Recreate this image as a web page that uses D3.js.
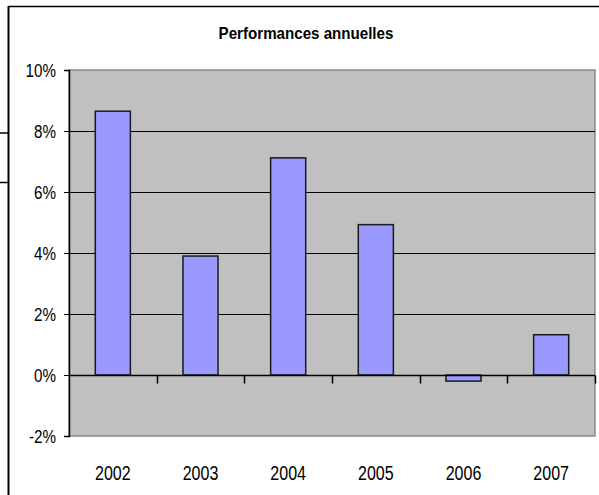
<!DOCTYPE html>
<html>
<head>
<meta charset="utf-8">
<script src="https://cdn.jsdelivr.net/npm/d3@7"></script>
<style>
  body { margin: 0; background: #fff; }
  svg { display: block; font-family: Arial, "Liberation Sans", sans-serif; }
</style>
</head>
<body>
<div id="chart"></div>
<script>
// data
const years = ["2002", "2003", "2004", "2005", "2006", "2007"];
const perf = [8.65, 3.9, 7.12, 4.93, -0.2, 1.32];
const yTicks = [-2, 0, 2, 4, 6, 8, 10];
const title = "Performances annuelles";

const W = 599, H = 495;
const plot = { left: 69, top: 70, right: 595, bottom: 436 };

const svg = d3.select("#chart").append("svg")
    .attr("width", W)
    .attr("height", H);

// outer chart frame (cropped at right / bottom)
svg.append("line")
    .attr("x1", 8).attr("y1", 6.5).attr("x2", W).attr("y2", 6.5)
    .attr("stroke", "#000").attr("stroke-width", 1.5);
svg.append("line")
    .attr("x1", 8.5).attr("y1", 6).attr("x2", 8.5).attr("y2", H)
    .attr("stroke", "#000").attr("stroke-width", 2);

// stray little marks at the very left
[133, 182.5].forEach(yy => {
    svg.append("line")
        .attr("x1", 0).attr("x2", 8).attr("y1", yy).attr("y2", yy)
        .attr("stroke", "#000").attr("stroke-width", 1.5);
});

// title
svg.append("text")
    .attr("transform", `translate(306,39) scale(0.89,1)`)
    .attr("text-anchor", "middle")
    .attr("font-weight", "bold")
    .attr("font-size", "17px")
    .attr("fill", "#000")
    .text(title);

// scales
const x = d3.scaleBand()
    .domain(years)
    .range([plot.left, plot.right])
    .paddingInner(0)
    .paddingOuter(0);

const y = d3.scaleLinear()
    .domain([-2, 10])
    .range([plot.bottom, plot.top]);

// plot area
svg.append("rect")
    .attr("x", plot.left)
    .attr("y", plot.top)
    .attr("width", plot.right - plot.left)
    .attr("height", plot.bottom - plot.top)
    .attr("fill", "#c0c0c0")
    .attr("stroke", "#8a8a8a")
    .attr("stroke-width", 1.5);

// gridlines
svg.selectAll(".grid")
    .data(yTicks.filter(t => t > 0 && t < 10))
    .enter().append("line")
    .attr("class", "grid")
    .attr("x1", plot.left).attr("x2", plot.right)
    .attr("y1", d => Math.round(y(d)) + 0.5)
    .attr("y2", d => Math.round(y(d)) + 0.5)
    .attr("stroke", "#000")
    .attr("stroke-width", 1);

// bars
const barW = x.bandwidth() / 2.5;
svg.selectAll(".bar")
    .data(perf)
    .enter().append("rect")
    .attr("class", "bar")
    .attr("x", (d, i) => x(years[i]) + (x.bandwidth() - barW) / 2)
    .attr("y", d => y(Math.max(0, d)))
    .attr("width", barW)
    .attr("height", d => Math.abs(y(d) - y(0)))
    .attr("fill", "#9999ff")
    .attr("stroke", "#1a1a1a")
    .attr("stroke-width", 1.5);

// y axis
const yAxis = d3.axisLeft(y)
    .tickValues(yTicks)
    .tickSize(5)
    .tickFormat(d => d + "%");

const yg = svg.append("g")
    .attr("transform", `translate(${plot.left},0)`)
    .call(yAxis);
yg.select(".domain").attr("stroke", "#000").attr("stroke-width", 1.5);
yg.selectAll(".tick line").attr("stroke", "#000");
yg.selectAll(".tick text")
    .attr("x", -13 / 0.8)
    .attr("dy", "0.36em")
    .attr("transform", "scale(0.8,1)")
    .attr("font-size", "19px")
    .attr("fill", "#000");

// x axis along the 0% line, ticks between categories
const zeroY = Math.round(y(0)) + 0.5;
svg.append("line")
    .attr("x1", plot.left).attr("x2", plot.right)
    .attr("y1", zeroY).attr("y2", zeroY)
    .attr("stroke", "#000").attr("stroke-width", 1.5);

const bounds = years.slice(1).map(yr => x(yr)).concat([plot.right]);
svg.selectAll(".xtick")
    .data(bounds)
    .enter().append("line")
    .attr("class", "xtick")
    .attr("x1", d => Math.round(d) + 0.5).attr("x2", d => Math.round(d) + 0.5)
    .attr("y1", zeroY).attr("y2", zeroY + 8)
    .attr("stroke", "#000").attr("stroke-width", 1.5);

// year labels under the plot
svg.selectAll(".xlab")
    .data(years)
    .enter().append("text")
    .attr("class", "xlab")
    .attr("transform", d => `translate(${x(d) + x.bandwidth() / 2},480) scale(0.8,1)`)
    .attr("text-anchor", "middle")
    .attr("font-size", "20px")
    .attr("fill", "#000")
    .text(d => d);
</script>
</body>
</html>
